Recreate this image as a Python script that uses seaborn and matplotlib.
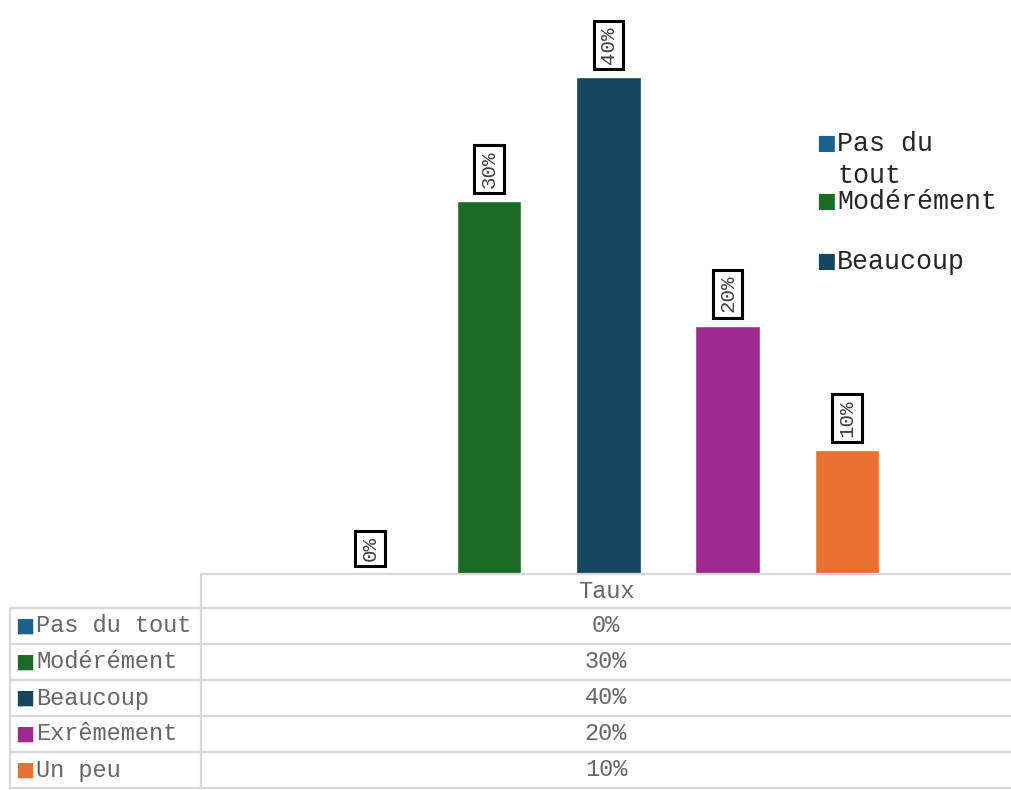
import matplotlib
matplotlib.use("Agg")
import matplotlib.pyplot as plt
from matplotlib.lines import Line2D
import pandas as pd
import seaborn as sns

# data
categories = ["Pas du tout", "Modérément", "Beaucoup", "Exrêmement", "Un peu"]
values = [0, 30, 40, 20, 10]
series_name = "Taux"
bar_colors = ["#1c6189", "#1b6b26", "#13465f", "#9e2a8f", "#e87132"]
legend_labels = ["Pas du\ntout", "Modérément", "", "Beaucoup"]

sns.set_theme(style="white")
plt.rcParams["font.family"] = ["Liberation Mono", "DejaVu Sans"]

W, H = 1011, 790
fig = plt.figure(figsize=(W / 100, H / 100), dpi=100)
ax = fig.add_axes([201 / W, 1 - 574 / H, 1 - 201 / W, 574 / H])

df = pd.DataFrame({"serie": [series_name] * len(categories), "cat": categories, "val": values})
sns.barplot(data=df, x="serie", y="val", hue="cat", hue_order=categories,
            palette=bar_colors, width=0.736, gap=0.46, dodge=True,
            saturation=1, legend=False, ax=ax, errorbar=None)

ax.set_ylim(0, 574 / 12.425)
ax.set_xlim(-0.503, 0.497)
ax.set_axis_off()

# data labels in boxes
for cont, v in zip(ax.containers, values):
    for bar in cont:
        xc = bar.get_x() + bar.get_width() / 2
        ax.annotate("{}%".format(v), (xc, bar.get_height()), xytext=(0, 9.5),
                    textcoords="offset points", ha="center", va="bottom",
                    rotation=90, fontsize=15, color="#404040",
                    bbox=dict(boxstyle="square,pad=0.25", fc="white", ec="black", lw=2.2))

# legend on the right (as in the source, only three entries fit)
leg_y = [143, 201, 231, 261]
leg_col = [bar_colors[0], bar_colors[1], None, bar_colors[2]]
for lab, yy, c in zip(legend_labels, leg_y, leg_col):
    if not lab:
        continue
    fig.text(816 / W, 1 - yy / H, "■", color=c, fontsize=15, va="center", ha="left",
             family=["DejaVu Sans"])
    fig.text(837 / W, 1 - (yy - 12) / H, lab, color="#262626", fontsize=19.2,
             va="top", ha="left", linespacing=1.28)

# data table
grid = "#d9d9d9"
rows_y = [608, 644, 680, 716, 752, 788]
fig.add_artist(Line2D([201 / W, 1], [1 - 574 / H] * 2, color=grid, lw=1.6))
for yy in rows_y:
    fig.add_artist(Line2D([10 / W, 1], [1 - yy / H] * 2, color=grid, lw=1.6))
fig.add_artist(Line2D([201 / W] * 2, [1 - 574 / H, 0], color=grid, lw=1.6))
fig.add_artist(Line2D([10 / W] * 2, [1 - 608 / H, 0], color=grid, lw=1.6))

txt = "#666666"
fig.text(606 / W, 1 - 591 / H, series_name, ha="center", va="center", fontsize=17, color=txt)
for i, (cat, v, c) in enumerate(zip(categories, values, bar_colors)):
    yc = 1 - (rows_y[0] + 18 + 36 * i) / H
    fig.text(15 / W, yc, "■", color=c, fontsize=14.5, va="center", ha="left",
             family=["DejaVu Sans"])
    fig.text(36 / W, yc, cat, ha="left", va="center", fontsize=17, color=txt)
    fig.text(606 / W, yc, "{}%".format(v), ha="center", va="center", fontsize=17, color=txt)

fig.savefig("out.png", dpi=100, facecolor="white")
